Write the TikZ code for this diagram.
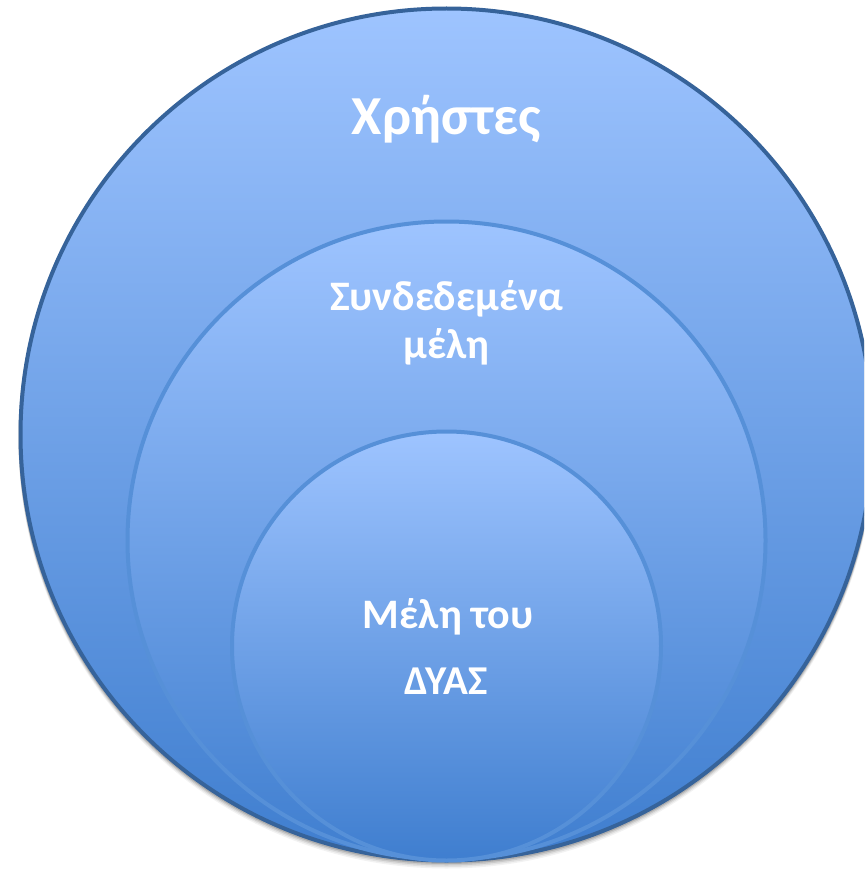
\documentclass[tikz,border=0pt]{standalone}
\usepackage{fontspec}
\setmainfont{Carlito}
\begin{document}
\begin{tikzpicture}[x=1pt,y=-1pt]
\definecolor{topblue}{HTML}{9EC4FF}
\definecolor{botblue}{HTML}{3F7ECF}
\definecolor{outerline}{HTML}{36639A}
\definecolor{innerline}{HTML}{5690D8}
\tikzset{
  bubble/.style={circle, inner sep=0pt, top color=topblue, bottom color=botblue, shading angle=0},
  label/.style={text=white, anchor=base, align=center},
}
\useasboundingbox (0,0) rectangle (864,869);
\clip (0,0) rectangle (864,869);
% shadow
\foreach \d/\o in {6/0.05,4.5/0.07,3/0.1,1.5/0.14}
  \fill[black, opacity=\o] (446.5,434.5+\d) circle (428);
\node[bubble, draw=outerline, line width=4pt, minimum size=852pt] (outer) at (446.5,434.5) {};
\node[bubble, draw=innerline, line width=4pt, minimum size=638pt] (middle) at (446.5,540.5) {};
\node[bubble, draw=innerline, line width=4pt, minimum size=429pt] (inner) at (446.5,646) {};
\node[label, font=\bfseries\fontsize{55}{60}\selectfont] (t1) at (446.5,135) {Χρήστες};
\node[label, font=\bfseries\fontsize{42}{48}\selectfont] (t2) at (446.5,310) {Συνδεδεμένα};
\node[label, font=\bfseries\fontsize{42}{48}\selectfont] (t3) at (446.5,358) {μέλη};
\node[label, font=\bfseries\fontsize{42}{48}\selectfont] (t4) at (448,628) {Μέλη του};
\node[label, font=\bfseries\fontsize{41}{48}\selectfont] (t5) at (446.5,694) {ΔΥΑΣ};
\end{tikzpicture}
\end{document}
